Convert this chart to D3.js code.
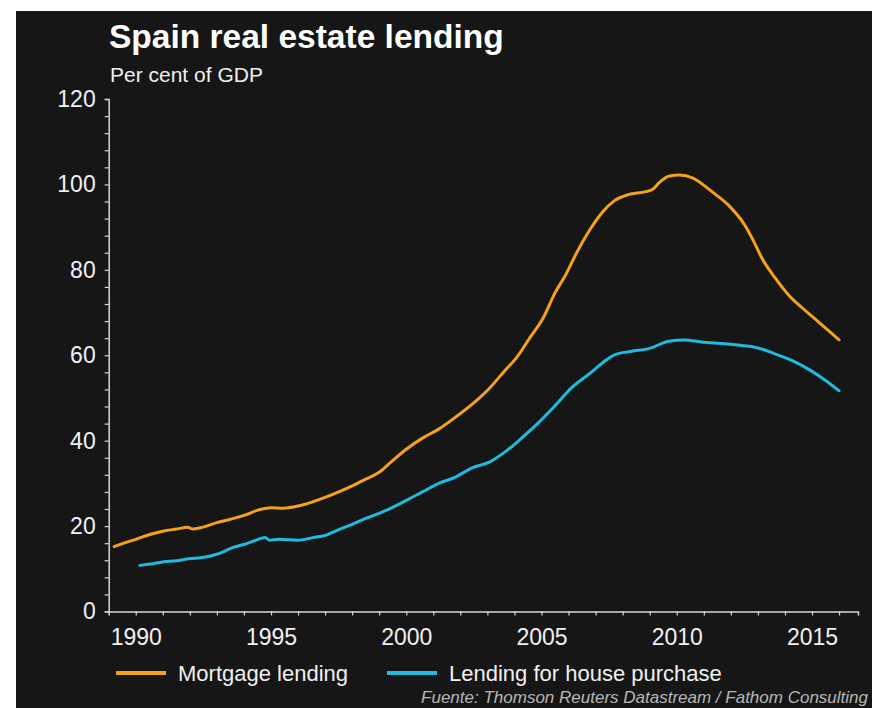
<!DOCTYPE html>
<html>
<head>
<meta charset="utf-8">
<script src="https://cdn.jsdelivr.net/npm/d3@7"></script>
<style>
  html, body { margin: 0; padding: 0; background: #ffffff; }
  svg { display: block; }
  text { font-family: "Liberation Sans", Arial, sans-serif; }
</style>
</head>
<body>
<svg id="chart" width="872" height="708"></svg>
<script>
// Mortgage lending, per cent of GDP
const mortgageYears = [
  1989.2, 1989.5, 1990.0, 1990.55, 1991.0, 1991.5, 1991.93, 1992.1, 1992.4, 1993.0,
  1993.5, 1994.0, 1994.6, 1995.0, 1995.45, 1996.0, 1996.55, 1997.0, 1997.55, 1998.0,
  1998.5, 1999.0, 1999.4, 2000.0, 2000.6, 2001.2, 2001.8, 2002.45, 2003.05, 2003.7,
  2004.05, 2004.55, 2005.05, 2005.5, 2005.9, 2006.3, 2006.8, 2007.25, 2007.7, 2008.2,
  2008.85, 2009.1, 2009.35, 2009.7, 2010.1, 2010.6, 2011.3, 2011.9, 2012.5, 2012.85,
  2013.15, 2013.65, 2014.15, 2014.6, 2015.1, 2015.6, 2016.0
];
const mortgageValues = [
  15.2, 15.9, 16.9, 18.1, 18.8, 19.3, 19.7, 19.3, 19.6, 20.8,
  21.6, 22.5, 23.9, 24.3, 24.2, 24.7, 25.7, 26.7, 28.1, 29.4,
  31.0, 32.6, 34.8, 38.0, 40.6, 42.7, 45.4, 48.6, 52.1, 56.8,
  59.2, 63.9, 68.6, 74.6, 78.9, 84.0, 89.5, 93.5, 96.2, 97.6,
  98.3, 98.8, 100.4, 101.9, 102.2, 101.5, 98.3, 95.2, 90.6, 86.6,
  82.7, 78.0, 74.0, 71.3, 68.6, 65.8, 63.6
];

// Lending for house purchase, per cent of GDP
const purchaseYears = [
  1990.15, 1990.55, 1991.0, 1991.5, 1992.0, 1992.4, 1993.0, 1993.6, 1994.0, 1994.45,
  1994.78, 1994.95, 1995.3, 1996.0, 1996.55, 1997.0, 1997.55, 1998.0, 1998.5, 1999.0,
  1999.4, 2000.0, 2000.6, 2001.2, 2001.8, 2002.45, 2003.05, 2003.7, 2004.3, 2004.9,
  2005.5, 2006.1, 2006.8, 2007.25, 2007.7, 2008.3, 2009.0, 2009.7, 2010.3, 2010.9,
  2011.8, 2012.4, 2013.0, 2013.6, 2014.25, 2014.85, 2015.5, 2016.0
];
const purchaseValues = [
  10.8, 11.1, 11.6, 11.9, 12.4, 12.6, 13.4, 15.0, 15.7, 16.7,
  17.3, 16.7, 16.9, 16.7, 17.3, 17.8, 19.3, 20.4, 21.8, 23.0,
  24.1, 26.0, 28.0, 30.0, 31.4, 33.7, 34.9, 37.6, 40.8, 44.3,
  48.2, 52.3, 55.8, 58.2, 60.1, 60.9, 61.6, 63.3, 63.6, 63.1,
  62.7, 62.3, 61.7, 60.4, 58.8, 56.8, 54.1, 51.7
];

const seriesNames = ["Mortgage lending", "Lending for house purchase"];
const seriesColors = ["#f4a21c", "#1fbadc"];

const yTickValues = [0, 20, 40, 60, 80, 100, 120];
const xTickLabels = [1990, 1995, 2000, 2005, 2010, 2015];

const titleText = "Spain real estate lending";
const subtitleText = "Per cent of GDP";
const sourceText = "Fuente: Thomson Reuters Datastream / Fathom Consulting";

const W = 872, H = 708;
const svg = d3.select("#chart");

// dark panel
svg.append("rect").attr("x", 16).attr("y", 11).attr("width", W - 16).attr("height", H - 11)
  .attr("fill", "#161616");

const x = d3.scaleLinear().domain([1989, 2016.7]).range([108.7, 858]);
const y = d3.scaleLinear().domain([0, 120]).range([611.5, 99]);

const axisColor = "#d8d8d8";

// y axis: minor ticks every 4, labels every 20
const yAxis = d3.axisLeft(y).tickValues(d3.range(0, 121, 4)).tickSize(4)
  .tickFormat(d => yTickValues.includes(d) ? d : "");
const gy = svg.append("g").attr("transform", `translate(${x(1989)},0)`).call(yAxis);
gy.select(".domain").attr("stroke", axisColor).attr("stroke-width", 1.5);
gy.selectAll(".tick line").attr("stroke", axisColor).attr("stroke-width", 1.2);
gy.selectAll(".tick text").attr("fill", "#f2f2f2").attr("font-size", 23)
  .attr("font-family", "Liberation Sans, Arial, sans-serif").attr("x", -13);

// x axis: tick every year, labels every five
const xAxis = d3.axisBottom(x).tickValues(d3.range(1990, 2017, 1)).tickSize(4)
  .tickFormat(d => xTickLabels.includes(d) ? d : "");
const gx = svg.append("g").attr("transform", `translate(0,${y(0)})`).call(xAxis);
gx.select(".domain").attr("stroke", axisColor).attr("stroke-width", 1.5);
gx.selectAll(".tick line").attr("stroke", axisColor).attr("stroke-width", 1.2);
gx.selectAll(".tick text").attr("fill", "#f2f2f2").attr("font-size", 23)
  .attr("font-family", "Liberation Sans, Arial, sans-serif").attr("dy", "1.15em");

// series lines
const line = d3.line().x(d => x(d[0])).y(d => y(d[1])).curve(d3.curveMonotoneX);
const series = [
  d3.zip(mortgageYears, mortgageValues),
  d3.zip(purchaseYears, purchaseValues)
];
series.forEach((s, i) => {
  svg.append("path").datum(s).attr("d", line)
    .attr("fill", "none").attr("stroke", seriesColors[i]).attr("stroke-width", 3)
    .attr("stroke-linejoin", "round").attr("stroke-linecap", "round");
});

// title and subtitle
svg.append("text").attr("x", 109).attr("y", 48).text(titleText)
  .attr("fill", "#ffffff").attr("font-size", 33.5).attr("font-weight", "bold");
svg.append("text").attr("x", 110).attr("y", 82).text(subtitleText)
  .attr("fill", "#f0f0f0").attr("font-size", 21);

// legend
const legendX = [116, 387];
seriesNames.forEach((name, i) => {
  const g = svg.append("g").attr("transform", `translate(${legendX[i]},673)`);
  g.append("line").attr("x1", 0).attr("x2", 50).attr("y1", 0).attr("y2", 0)
    .attr("stroke", seriesColors[i]).attr("stroke-width", 4);
  g.append("text").attr("x", 62).attr("y", 8).text(name)
    .attr("fill", "#f0f0f0").attr("font-size", 22);
});

// source line, right-aligned to the panel edge
svg.append("text").attr("x", W - 4).attr("y", 703).attr("text-anchor", "end").text(sourceText)
  .attr("fill", "#b8b8b8").attr("font-size", 17).attr("font-style", "italic");
</script>
</body>
</html>
